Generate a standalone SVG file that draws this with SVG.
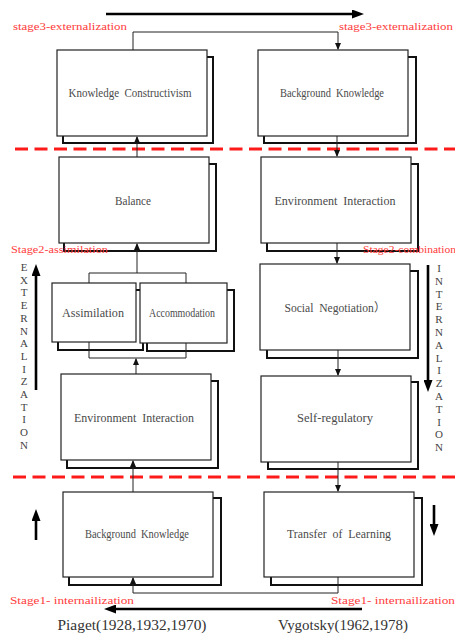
<svg xmlns="http://www.w3.org/2000/svg" width="455" height="635" viewBox="0 0 455 635" xml:space="preserve">
  <style>
    .front { fill: #fff; stroke: #222; stroke-width: 1.2; }
    .shadow { fill: #fff; stroke: #111; stroke-width: 2; }
    .label { font-family: "Liberation Serif", "Noto Sans CJK SC", serif; font-size: 12px; fill: #4a4a4a; text-anchor: middle; white-space: pre; }
    .stage { font-family: "Liberation Serif", "Noto Sans CJK SC", serif; font-size: 11px; fill: #ff3b3b; white-space: pre; }
    .vert { font-family: "Liberation Serif", "Noto Sans CJK SC", serif; font-size: 11px; fill: #444; text-anchor: middle; }
    .author { font-family: "Liberation Serif", "Noto Sans CJK SC", serif; font-size: 14px; fill: #333; text-anchor: middle; }
    .conn { fill: none; stroke: #222; stroke-width: 1; }
    .thick { fill: none; stroke: #000; stroke-width: 2.6; }
    .divider { fill: none; stroke: #ff1a1a; stroke-width: 3; stroke-dasharray: 13 6.5; }
  </style>
  <defs>
    <marker id="tip" markerUnits="userSpaceOnUse" markerWidth="7" markerHeight="6" refX="6" refY="3" orient="auto">
      <path d="M0,0 L7,3 L0,6 z" fill="#111"/>
    </marker>
    <marker id="bigtip" markerUnits="userSpaceOnUse" markerWidth="12" markerHeight="9" refX="1" refY="4.5" orient="auto">
      <path d="M0,0 L12,4.5 L0,9 z" fill="#000"/>
    </marker>
  </defs>

  <rect width="455" height="635" fill="#fff"/>

  <!-- stage dividers -->
  <g id="dividers">
    <line class="divider" x1="15" y1="149" x2="455" y2="149"/>
    <line class="divider" x1="13" y1="477" x2="455" y2="477"/>
  </g>

  <!-- Piaget column -->
  <g id="knowledge-constructivism">
    <rect class="shadow" x="63" y="57" width="150" height="86"/>
    <rect class="front" x="57" y="50" width="150" height="86"/>
    <text class="label" x="130" y="97" textLength="123" lengthAdjust="spacingAndGlyphs">Knowledge  Constructivism</text>
  </g>
  <g id="balance">
    <rect class="shadow" x="64" y="164" width="152" height="87"/>
    <rect class="front" x="59" y="157" width="150" height="86"/>
    <text class="label" x="133" y="205" textLength="36" lengthAdjust="spacingAndGlyphs">Balance</text>
  </g>
  <g id="assimilation">
    <rect class="shadow" x="58" y="290" width="85" height="60"/>
    <rect class="front" x="52" y="283" width="84" height="59"/>
    <text class="label" x="93" y="317" textLength="62" lengthAdjust="spacingAndGlyphs">Assimilation</text>
  </g>
  <g id="accommodation">
    <rect class="shadow" x="147" y="290" width="87" height="61"/>
    <rect class="front" x="140" y="283" width="87" height="60"/>
    <text class="label" x="182" y="317" textLength="66" lengthAdjust="spacingAndGlyphs">Accommodation</text>
  </g>
  <g id="environment-interaction-left">
    <rect class="shadow" x="67" y="381" width="151" height="87"/>
    <rect class="front" x="61" y="374" width="150" height="86"/>
    <text class="label" x="134" y="422" textLength="120" lengthAdjust="spacingAndGlyphs">Environment  Interaction</text>
  </g>
  <g id="background-knowledge-left">
    <rect class="shadow" x="69" y="498" width="152" height="87"/>
    <rect class="front" x="63" y="492" width="150" height="85"/>
    <text class="label" x="137" y="538" textLength="104" lengthAdjust="spacingAndGlyphs">Background  Knowledge</text>
  </g>

  <!-- Vygotsky column -->
  <g id="background-knowledge-right">
    <rect class="shadow" x="264" y="57" width="152" height="86"/>
    <rect class="front" x="258" y="50" width="150" height="86"/>
    <text class="label" x="332" y="97" textLength="104" lengthAdjust="spacingAndGlyphs">Background  Knowledge</text>
  </g>
  <g id="environment-interaction-right">
    <rect class="shadow" x="267" y="164" width="151" height="87"/>
    <rect class="front" x="261" y="157" width="150" height="86"/>
    <text class="label" x="335" y="205" textLength="121" lengthAdjust="spacingAndGlyphs">Environment  Interaction</text>
  </g>
  <g id="social-negotiation">
    <rect class="shadow" x="267" y="271" width="151" height="87"/>
    <rect class="front" x="260" y="264" width="150" height="86"/>
    <text class="label" x="335" y="312" textLength="101" lengthAdjust="spacingAndGlyphs">Social  Negotiation）</text>
  </g>
  <g id="self-regulatory">
    <rect class="shadow" x="268" y="382" width="150" height="87"/>
    <rect class="front" x="261" y="376" width="150" height="86"/>
    <text class="label" x="335" y="422" textLength="76" lengthAdjust="spacingAndGlyphs">Self-regulatory</text>
  </g>
  <g id="transfer-of-learning">
    <rect class="shadow" x="271" y="498" width="151" height="87"/>
    <rect class="front" x="264" y="492" width="150" height="85"/>
    <text class="label" x="339" y="538" textLength="104" lengthAdjust="spacingAndGlyphs">Transfer  of  Learning</text>
  </g>

  <!-- connectors -->
  <g id="connectors">
    <path class="conn" d="M133,50 V32 H338 V49" marker-end="url(#tip)" stroke="#555"/>
    <path class="conn" d="M137,157 V137" marker-end="url(#tip)"/>
    <path class="conn" d="M337,136 V156" marker-end="url(#tip)"/>
    <path class="conn" d="M89,283 V273 H186 V283"/>
    <path class="conn" d="M137,273 V244" marker-end="url(#tip)"/>
    <path class="conn" d="M89,342 V358 H186 V343"/>
    <path class="conn" d="M136,374 V359" marker-end="url(#tip)"/>
    <path class="conn" d="M133,492 V461" marker-end="url(#tip)"/>
    <path class="conn" d="M338,577 V593 H133 V578" marker-end="url(#tip)"/>
    <path class="conn" d="M337,243 V263" marker-end="url(#tip)"/>
    <path class="conn" d="M338,350 V375" marker-end="url(#tip)"/>
    <path class="conn" d="M338,462 V491" marker-end="url(#tip)"/>

    <!-- direction arrows -->
    <line class="thick" x1="106" y1="14" x2="353" y2="14" marker-end="url(#bigtip)"/>
    <line class="thick" x1="362" y1="609" x2="115" y2="609" marker-end="url(#bigtip)"/>
    <line class="thick" x1="36" y1="390" x2="36" y2="275" marker-end="url(#bigtip)"/>
    <line class="thick" x1="428" y1="265" x2="428" y2="381" marker-end="url(#bigtip)"/>
    <line class="thick" x1="36" y1="540" x2="36" y2="520" marker-end="url(#bigtip)"/>
    <line class="thick" x1="434" y1="505" x2="434" y2="525" marker-end="url(#bigtip)"/>
  </g>

  <!-- stage labels -->
  <g id="stage-labels">
    <text class="stage" x="13" y="30" textLength="114" lengthAdjust="spacingAndGlyphs">stage3-externalization</text>
    <text class="stage" x="339" y="30" textLength="114" lengthAdjust="spacingAndGlyphs">stage3-externalization</text>
    <text class="stage" x="11" y="253" textLength="97" lengthAdjust="spacingAndGlyphs">Stage2-assimilation</text>
    <text class="stage" x="363" y="253" textLength="93" lengthAdjust="spacingAndGlyphs">Stage2-combination</text>
    <text class="stage" x="10" y="604" textLength="124" lengthAdjust="spacingAndGlyphs">Stage1- internailization</text>
    <text class="stage" x="331" y="604" textLength="124" lengthAdjust="spacingAndGlyphs">Stage1- internailization</text>
  </g>

  <!-- vertical words -->
  <g id="externalization">
    <text class="vert" x="24" y="271">E</text>
    <text class="vert" x="24" y="283.7">X</text>
    <text class="vert" x="24" y="296.4">T</text>
    <text class="vert" x="24" y="309.1">E</text>
    <text class="vert" x="24" y="321.8">R</text>
    <text class="vert" x="24" y="334.5">N</text>
    <text class="vert" x="24" y="347.2">A</text>
    <text class="vert" x="24" y="359.9">L</text>
    <text class="vert" x="24" y="372.6">I</text>
    <text class="vert" x="24" y="385.3">Z</text>
    <text class="vert" x="24" y="398">A</text>
    <text class="vert" x="24" y="410.7">T</text>
    <text class="vert" x="24" y="423.4">I</text>
    <text class="vert" x="24" y="436.1">O</text>
    <text class="vert" x="24" y="448.8">N</text>
  </g>
  <g id="internalization">
    <text class="vert" x="439" y="272">I</text>
    <text class="vert" x="439" y="284.8">N</text>
    <text class="vert" x="439" y="297.6">T</text>
    <text class="vert" x="439" y="310.4">E</text>
    <text class="vert" x="439" y="323.2">R</text>
    <text class="vert" x="439" y="336">N</text>
    <text class="vert" x="439" y="348.8">A</text>
    <text class="vert" x="439" y="361.6">L</text>
    <text class="vert" x="439" y="374.4">I</text>
    <text class="vert" x="439" y="387.2">Z</text>
    <text class="vert" x="439" y="400">A</text>
    <text class="vert" x="439" y="412.8">T</text>
    <text class="vert" x="439" y="425.6">I</text>
    <text class="vert" x="439" y="438.4">O</text>
    <text class="vert" x="439" y="451.2">N</text>
  </g>

  <!-- authors -->
  <g id="authors">
    <text class="author" x="132" y="630" textLength="149" lengthAdjust="spacingAndGlyphs">Piaget(1928,1932,1970)</text>
    <text class="author" x="343" y="630" textLength="130" lengthAdjust="spacingAndGlyphs">Vygotsky(1962,1978)</text>
  </g>
</svg>
